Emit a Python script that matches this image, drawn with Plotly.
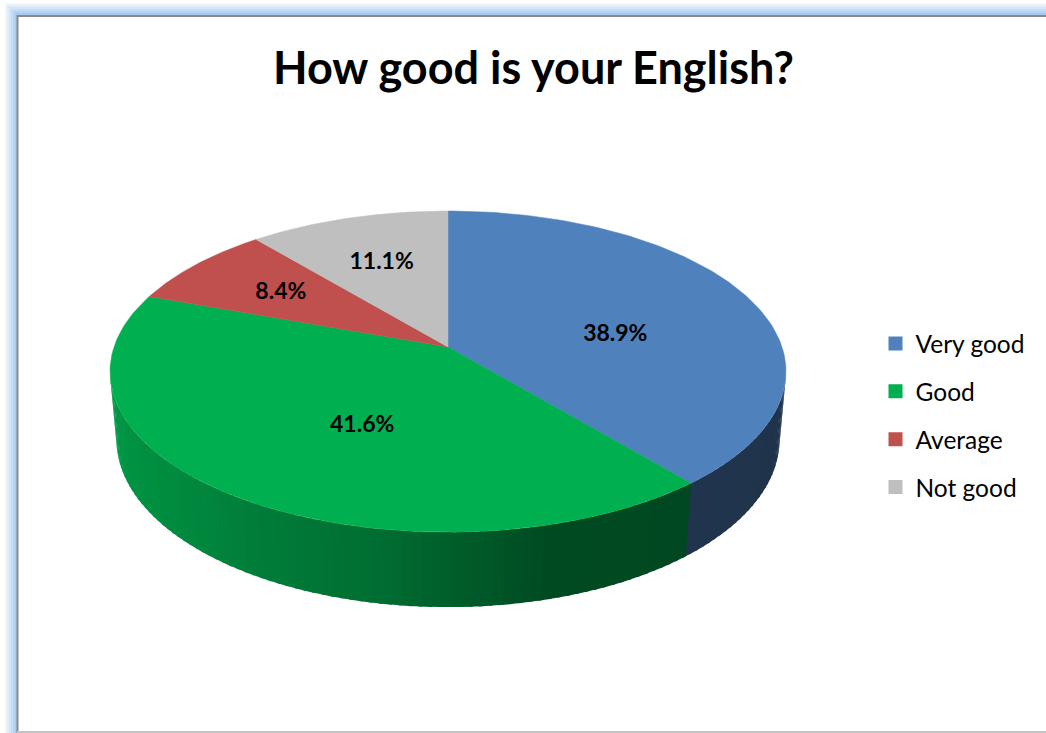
import numpy as np
import plotly.graph_objects as go

# ---- data ----
categories = ["Very good", "Good", "Average", "Not good"]
shares = [38.9, 41.6, 8.4, 11.1]
top_colors = [(79, 129, 189), (0, 176, 80), (192, 80, 77), (191, 191, 191)]

W, H = 1046, 733

# ---- 3D pie geometry (pixel space) ----
cx, cy = 448.0, 347.0          # projected centre of the top face
dist = 5.77                    # camera distance in pie radii
scale = 334.0                  # projected radius at the centre depth
focal = scale * dist
tilt = np.radians(28.0)
thick = 0.232                  # cylinder height in pie radii


def project(theta_deg, yh):
    """Project a point on the rim (angle clockwise from the back) at height yh."""
    th = np.radians(theta_deg)
    X = np.sin(th) * np.ones_like(yh, dtype=float)
    Z = -np.cos(th)
    ys = yh * np.cos(tilt) - Z * np.sin(tilt)
    d = dist - (Z * np.cos(tilt) + yh * np.sin(tilt))
    return cx + focal * X / d, cy - focal * ys / d


def rgb(c, k=1.0):
    return "rgb(%d,%d,%d)" % tuple(int(round(v * k)) for v in c)


total = float(sum(shares))
bounds = np.concatenate([[0.0], np.cumsum(shares) / total * 360.0])

# side wall shading by angle (light from the left)
shade_ang = [100, 165, 190, 225, 260]
shade_val = [0.39, 0.42, 0.62, 0.78, 0.88]

fig = go.Figure()

# ---- side walls (drawn in increasing angle, each strip overlapping the next) ----
th_s = np.degrees(np.arccos(-1.0 / (dist * np.cos(tilt))))
th_e = 360 - th_s
grid = np.arange(th_s, th_e, 1.5)
grid = np.unique(np.concatenate([grid, [th_e],
                                 [b for b in bounds if th_s < b < th_e]]))
for a0, a1 in zip(grid[:-1], grid[1:]):
    mid = 0.5 * (a0 + a1)
    idx = int(np.searchsorted(bounds, mid) - 1)
    k = float(np.interp(mid, shade_ang, shade_val))
    col = rgb(top_colors[idx], k)
    a1e = min(a1 + 0.6, th_e)
    tx0, ty0 = project(a0, 0.0)
    tx1, ty1 = project(a1e, 0.0)
    bx1, by1 = project(a1e, -thick)
    bx0, by0 = project(a0, -thick)
    fig.add_trace(go.Scatter(
        x=[tx0, tx1, bx1, bx0, tx0], y=[ty0, ty1, by1, by0, ty0],
        mode="lines", fill="toself", fillcolor=col,
        line=dict(width=0), hoverinfo="skip", showlegend=False))

# ---- top faces ----
centroids = []
for i, cat in enumerate(categories):
    angs = np.linspace(bounds[i], bounds[i + 1], 120)
    ax_, ay_ = project(angs, np.zeros_like(angs))
    px = np.concatenate([[cx], ax_, [cx]])
    py = np.concatenate([[cy], ay_, [cy]])
    col = rgb(top_colors[i])
    fig.add_trace(go.Scatter(
        x=px, y=py, mode="lines", fill="toself", fillcolor=col,
        line=dict(color=col, width=0.5), name=cat, hoverinfo="name",
        showlegend=False))
    # polygon centroid for the label
    x0, y0 = px[:-1], py[:-1]
    x1, y1 = px[1:], py[1:]
    cr = x0 * y1 - x1 * y0
    area = cr.sum() / 2.0
    centroids.append(((x0 + x1) * cr).sum() / (6 * area))
    centroids.append(((y0 + y1) * cr).sum() / (6 * area))

lx = centroids[0::2]
ly = centroids[1::2]
fig.add_trace(go.Scatter(
    x=lx, y=ly, mode="text",
    text=["<b>%.1f%%</b>" % v for v in shares],
    textfont=dict(family="Lato", size=23, color="black"),
    hoverinfo="skip", showlegend=False))

# ---- legend entries ----
for i, cat in enumerate(categories):
    fig.add_trace(go.Scatter(
        x=[None], y=[None], mode="markers", name=cat, legendgroup=cat,
        marker=dict(symbol="square", size=14, color=rgb(top_colors[i])),
        showlegend=True))

# ---- chart frame: soft blue glow on the left/top edges ----
shapes = []
glow = np.linspace(0, 1, 7)
for j, g in enumerate(glow):
    c = tuple(255 + (v - 255) * g for v in (166, 202, 242))
    col = rgb(c)
    off = 6 - j
    shapes.append(dict(type="rect", xref="x", yref="y", layer="below",
                       x0=17 - 2 * (off + 1), x1=17, y0=15 - 2 * (off + 1), y1=H,
                       fillcolor=col, line=dict(width=0)))
    shapes.append(dict(type="rect", xref="x", yref="y", layer="below",
                       x0=17 - 2 * (off + 1), x1=W, y0=15 - 2 * (off + 1), y1=15,
                       fillcolor=col, line=dict(width=0)))
shapes.append(dict(type="rect", xref="x", yref="y", layer="below",
                   x0=17, x1=W, y0=15, y1=H, fillcolor="white",
                   line=dict(width=0)))
shapes.append(dict(type="line", xref="x", yref="y", x0=17.5, x1=17.5, y0=15, y1=H,
                   line=dict(color="#8a8a8a", width=2)))
shapes.append(dict(type="line", xref="x", yref="y", x0=17, x1=W, y0=16, y1=16,
                   line=dict(color="#8a8a8a", width=2)))
shapes.append(dict(type="line", xref="x", yref="y", x0=17, x1=W, y0=732, y1=732,
                   line=dict(color="#c4c4c4", width=2)))

fig.update_layout(
    width=W, height=H, autosize=False,
    margin=dict(l=0, r=0, t=0, b=0),
    paper_bgcolor="white", plot_bgcolor="white",
    xaxis=dict(range=[0, W], visible=False, fixedrange=True),
    yaxis=dict(range=[H, 0], visible=False, fixedrange=True),
    shapes=shapes,
    title=dict(text="<b>How good is your English?</b>", x=0.51, xanchor="center",
               y=1 - 68 / H, yanchor="middle",
               font=dict(family="Lato", size=45, color="black")),
    legend=dict(x=0.837, xanchor="left", y=1 - 321 / H, yanchor="top",
                font=dict(family="Lato", size=24.5, color="black"),
                tracegroupgap=13, bgcolor="rgba(0,0,0,0)"),
    showlegend=True,
)

fig.write_html("out.html")
